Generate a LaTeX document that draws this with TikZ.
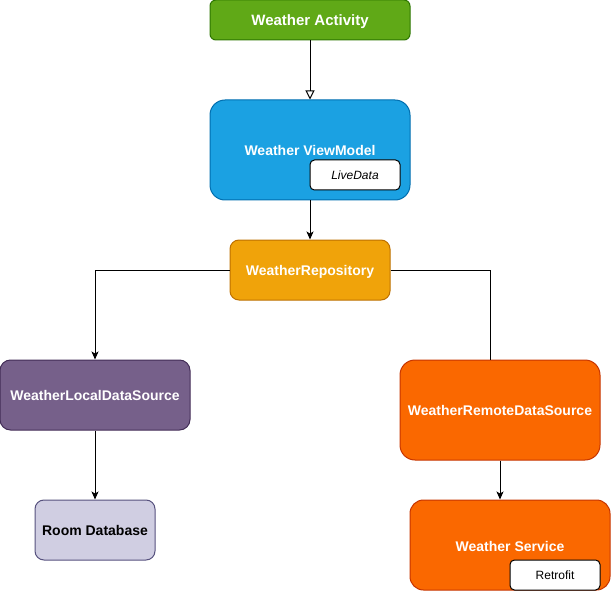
\documentclass[tikz,border=0pt]{standalone}
\usepackage{fontspec}
\setmainfont{Liberation Sans}
\usetikzlibrary{arrows.meta}
\definecolor{actfill}{HTML}{60A917}\definecolor{actline}{HTML}{2D7600}
\definecolor{vmfill}{HTML}{1BA1E2}\definecolor{vmline}{HTML}{006EAF}
\definecolor{repofill}{HTML}{F0A30A}\definecolor{repoline}{HTML}{BD7000}
\definecolor{locfill}{HTML}{76608A}\definecolor{locline}{HTML}{432D57}
\definecolor{roomfill}{HTML}{D0CEE2}\definecolor{roomline}{HTML}{56517E}
\definecolor{remfill}{HTML}{FA6800}\definecolor{remline}{HTML}{C73500}
\tikzset{
  box/.style={draw, line width=1pt, inner sep=0pt, font=\fontsize{14}{16}\selectfont\bfseries, text=white,
    text height=10pt, text depth=0pt},
  label14/.style={text=white, font=\fontsize{14}{16}\selectfont\bfseries, inner sep=0pt, text height=10pt, text depth=0pt},
  tag/.style={draw=black, fill=white, line width=1pt, inner sep=0pt, rounded corners=4.5pt,
    minimum width=90pt, minimum height=30pt, font=\fontsize{12}{14}\selectfont, text height=8.6pt, text depth=0pt},
  link/.style={line width=1pt, draw=black},
  arr/.style={link, -{Stealth[length=8pt,width=7pt,inset=2pt]}},
  openarr/.style={link, -{Triangle[open,length=9pt,width=9pt]}},
}
\begin{document}
\begin{tikzpicture}[x=1pt,y=-1pt]
\useasboundingbox (0,0) rectangle (611,591);
\node[box, fill=actfill, draw=actline, rounded corners=6pt, minimum width=200pt, minimum height=40pt,
  font=\fontsize{15}{17}\selectfont\bfseries, text height=10.8pt] (act) at (310,20) {Weather Activity};
\node[box, fill=vmfill, draw=vmline, rounded corners=15pt, minimum width=200pt, minimum height=100pt] (vm) at (310,150) {};
\node[label14] (vmlabel) at (310,151) {Weather ViewModel};
\node[tag, font=\fontsize{12}{14}\selectfont\itshape] (live) at (355,175) {LiveData};
\node[box, fill=repofill, draw=repoline, rounded corners=9pt, minimum width=160pt, minimum height=60pt] (repo) at (310,270) {WeatherRepository};
\node[box, fill=locfill, draw=locline, rounded corners=10.5pt, minimum width=190pt, minimum height=70pt] (loc) at (95,395) {WeatherLocalDataSource};
\node[box, fill=roomfill, draw=roomline, rounded corners=9pt, minimum width=120pt, minimum height=60pt, text=black] (room) at (95,530) {Room Database};
\node[box, fill=remfill, draw=remline, rounded corners=15pt, minimum width=200pt, minimum height=100pt] (rem) at (500,410) {WeatherRemoteDataSource};
\node[box, fill=remfill, draw=remline, rounded corners=13.5pt, minimum width=200pt, minimum height=90pt] (svc) at (510,545) {};
\node[label14] (svclabel) at (510,546) {Weather Service};
\node[tag] (retro) at (555,575) {Retrofit};
\draw[openarr] (act) -- (vm);
\draw[arr] (vm) -- (repo);
\draw[arr] (repo.west) -| (loc.north);
\draw[link] (repo.east) -| ([xshift=-10pt]rem.north);
\draw[arr] (loc) -- (room);
\draw[arr] (rem.south) -- (rem.south |- svc.north);
\end{tikzpicture}
\end{document}
